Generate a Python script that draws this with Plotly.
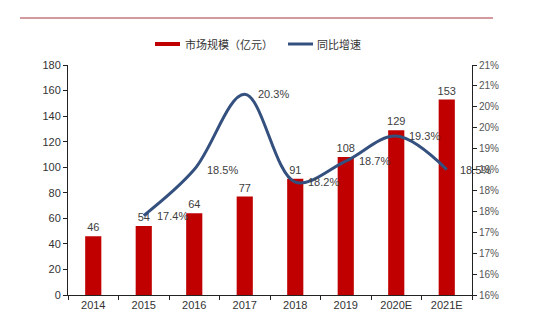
import plotly.graph_objects as go

# Market size (100 million yuan) and year-on-year growth (%)
years = ["2014", "2015", "2016", "2017", "2018", "2019", "2020E", "2021E"]
market_size = [46, 54, 64, 77, 91, 108, 129, 153]
growth_pct = [None, 17.4, 18.5, 20.3, 18.2, 18.7, 19.3, 18.5]

left_ticks = [0, 20, 40, 60, 80, 100, 120, 140, 160, 180]
right_tickvals = [15.5, 16.0, 16.5, 17.0, 17.5, 18.0, 18.5, 19.0, 19.5, 20.0, 20.5, 21.0]
right_ticktext = ["16%", "16%", "17%", "17%", "18%", "18%", "19%", "19%", "20%", "20%", "21%", "21%"]

bar_name = "市场规模（亿元）"
line_name = "同比增速"

BAR_RED = "#C00000"
LINE_BLUE = "#34507E"
TEXT = "#404040"
FONT = "Liberation Sans, Arial, sans-serif"
CJK = "Noto Sans CJK SC, sans-serif"

fig = go.Figure()

fig.add_trace(go.Bar(
    x=years, y=market_size, name=bar_name,
    marker=dict(color=BAR_RED, line=dict(width=0)),
    text=[str(v) for v in market_size], textposition="outside",
    textfont=dict(family=FONT, size=11, color=TEXT),
    constraintext="none",
    cliponaxis=False, yaxis="y",
))

fig.add_trace(go.Scatter(
    x=years, y=growth_pct, name=line_name, mode="lines",
    line=dict(color=LINE_BLUE, width=3, shape="spline", smoothing=1.0),
    cliponaxis=False, yaxis="y2", connectgaps=False,
))

fig.update_layout(
    width=550, height=330,
    margin=dict(l=68, r=78, t=65, b=35),
    paper_bgcolor="white", plot_bgcolor="white",
    showlegend=False,
    bargap=0.68,
    font=dict(family=FONT, size=11, color=TEXT),
    xaxis=dict(
        type="category", categoryorder="array", categoryarray=years,
        range=[-0.5, len(years) - 0.5],
        showline=True, linecolor="#222", linewidth=1,
        ticks="outside", tickson="boundaries", ticklen=4, tickcolor="#222",
        tickfont=dict(family=FONT, size=11, color="#333"),
        showgrid=False, zeroline=False,
    ),
    yaxis=dict(
        range=[0, 180], tickvals=left_ticks,
        showline=True, linecolor="#222", linewidth=1,
        ticks="outside", ticklen=4, tickcolor="#222",
        tickfont=dict(family=FONT, size=11, color="#333"),
        showgrid=False, zeroline=False,
    ),
    yaxis2=dict(
        overlaying="y", side="right", range=[15.5, 21.0],
        tickvals=right_tickvals, ticktext=right_ticktext,
        showline=True, linecolor="#222", linewidth=1,
        ticks="outside", ticklen=4, tickcolor="#222",
        tickfont=dict(family=FONT, size=10, color="#555"),
        showgrid=False, zeroline=False,
    ),
)

# Plot area in pixels, used to place the header rule and legend in paper units
PX0, PW, PY0, PH = 68, 404, 295, 230
def px(x):
    return (x - PX0) / PW
def py(y):
    return (PY0 - y) / PH

shapes = [
    # Header rule across the top
    dict(type="line", xref="paper", yref="paper", x0=px(20), x1=px(493),
         y0=py(18), y1=py(18), line=dict(color="#A8353A", width=1)),
    # Legend swatches
    dict(type="rect", xref="paper", yref="paper", x0=px(155), x1=px(180),
         y0=py(46), y1=py(42), fillcolor=BAR_RED, line=dict(width=0)),
    dict(type="line", xref="paper", yref="paper", x0=px(288), x1=px(313),
         y0=py(44), y1=py(44), line=dict(color=LINE_BLUE, width=3)),
]
annotations = [
    dict(xref="paper", yref="paper", x=px(183), y=py(44), text=bar_name,
         showarrow=False, xanchor="left", yanchor="middle",
         font=dict(family=CJK, size=11, color="#333")),
    dict(xref="paper", yref="paper", x=px(315), y=py(44), text=line_name,
         showarrow=False, xanchor="left", yanchor="middle",
         font=dict(family=CJK, size=11, color="#333")),
]

# Growth labels sit to the right of each point on the line
for i, g in enumerate(growth_pct):
    if g is None:
        continue
    annotations.append(dict(
        x=i, y=g, xref="x", yref="y2", text=f"{g:.1f}%",
        showarrow=False, xanchor="left", yanchor="middle", xshift=11,
        font=dict(family=FONT, size=11, color=TEXT),
    ))

fig.update_layout(shapes=shapes, annotations=annotations)

fig.write_html("out.html")
